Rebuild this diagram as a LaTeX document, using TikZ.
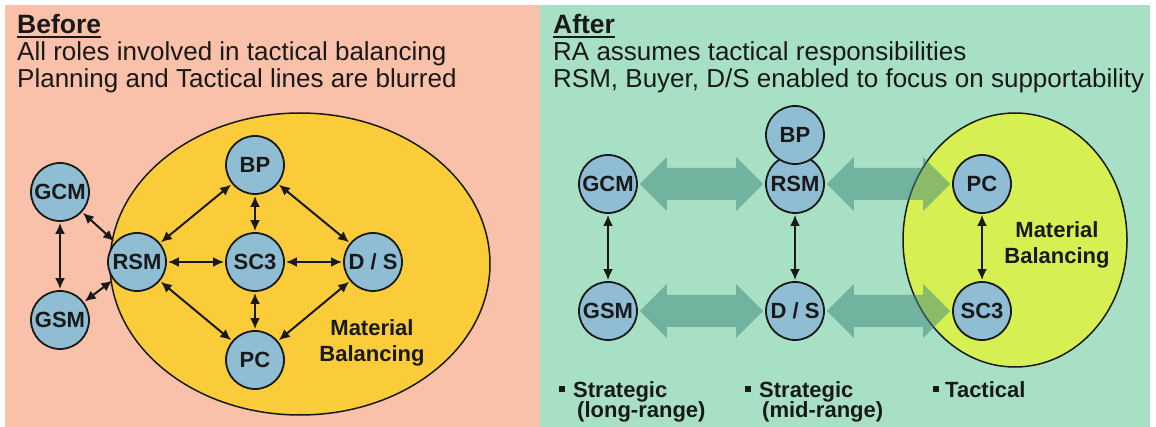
\documentclass[tikz,border=0pt]{standalone}
\usepackage{fontspec}
\setmainfont{Liberation Sans}
\usetikzlibrary{arrows.meta,shapes.geometric,calc}
\definecolor{pinkbg}{RGB}{249,193,170}
\definecolor{greenbg}{RGB}{168,224,198}
\definecolor{goldell}{RGB}{250,204,58}
\definecolor{limeell}{RGB}{214,240,84}
\definecolor{nodeblue}{RGB}{143,190,212}
\definecolor{inkc}{RGB}{25,25,25}
\definecolor{fatc}{RGB}{62,135,124}
\pgfdeclarelayer{back}
\pgfdeclarelayer{mid}
\pgfsetlayers{back,mid,main}
\newcommand\fatarrow[2]{\fill[fat] let \p1=(#1.east), \p2=(#2.west) in
  (\x1+2pt,\y1) -- (\x1+29pt,\y1+27pt) -- (\x1+29pt,\y1+16pt) -- (\x2-29pt,\y1+16pt) --
  (\x2-29pt,\y1+27pt) -- (\x2-2pt,\y1) -- (\x2-29pt,\y1-27pt) -- (\x2-29pt,\y1-16pt) --
  (\x1+29pt,\y1-16pt) -- (\x1+29pt,\y1-27pt) -- cycle;}
\begin{document}
\begin{tikzpicture}[x=1pt,y=-1pt,
  role/.style={circle,draw=inkc,line width=1.8pt,fill=nodeblue,minimum size=58pt,inner sep=0pt,
    font=\fontsize{22}{22}\selectfont\bfseries,text=inkc},
  link/.style={{Latex[length=11pt,width=10pt]}-{Latex[length=11pt,width=10pt]},line width=2pt,
    draw=inkc,shorten >=1pt,shorten <=1pt},
  fat/.style={fill=fatc,fill opacity=0.5},
  headtxt/.style={anchor=base west,inner sep=0pt,font=\fontsize{26}{26}\selectfont,text=inkc},
  titletxt/.style={headtxt,font=\fontsize{26.5}{26.5}\selectfont\bfseries},
  mbtxt/.style={align=center,inner sep=0pt,font=\fontsize{22}{26}\selectfont\bfseries,text=inkc},
  labtxt/.style={anchor=base west,inner sep=0pt,font=\fontsize{22}{22}\selectfont\bfseries,text=inkc},
  mbell/.style={ellipse,draw=inkc,line width=1.5pt,inner sep=0pt}
]
\useasboundingbox (0,0) rectangle (1156,427);
\begin{pgfonlayer}{back}
  \fill[white] (0,0) rectangle (1156,427);
  \fill[pinkbg] (5,5) rectangle (540,427);
  \fill[greenbg] (540,5) rectangle (1150,427);
  \node[mbell,fill=goldell,minimum width=380pt,minimum height=302pt] (ellL) at (300,264) {};
  \node[mbell,fill=limeell,minimum width=224pt,minimum height=254pt] (ellR) at (1015,240) {};
\end{pgfonlayer}

% headings
\node[titletxt] (before) at (17,34) {Before};
\draw[inkc,line width=2pt] ($(before.base west)+(0,3)$) -- ($(before.base east)+(0,3)$);
\node[headtxt] (bl1) at (17,61) {All roles involved in tactical balancing};
\node[headtxt] (bl2) at (17,88) {Planning and Tactical lines are blurred};
\node[titletxt] (after) at (553,34) {After};
\draw[inkc,line width=2pt] ($(after.base west)+(0,3)$) -- ($(after.base east)+(0,3)$);
\node[headtxt] (al1) at (553,61) {RA assumes tactical responsibilities};
\node[headtxt] (al2) at (553,88) {RSM, Buyer, D/S enabled to focus on supportability};

% left panel
\node[role] (gcmL) at (60,192) {GCM};
\node[role] (gsmL) at (60,320) {GSM};
\node[role] (rsmL) at (137,262) {RSM};
\node[role] (bpL) at (255,165) {BP};
\node[role] (scL) at (255,262) {SC3};
\node[role] (pcL) at (255,360) {PC};
\node[role] (dsL) at (373,262) {D / S};
\node[mbtxt] (mbL) at (372,343) {Material\\Balancing};
\draw[link] (gcmL) -- (gsmL);
\draw[link] (gcmL) -- (rsmL);
\draw[link] (gsmL) -- (rsmL);
\draw[link] (rsmL) -- (bpL);
\draw[link] (rsmL) -- (scL);
\draw[link] (rsmL) -- (pcL);
\draw[link] (bpL) -- (scL);
\draw[link] (bpL) -- (dsL);
\draw[link] (scL) -- (dsL);
\draw[link] (scL) -- (pcL);
\draw[link] (dsL) -- (pcL);

% right panel
\node[role] (gcmR) at (608,184) {GCM};
\node[role] (gsmR) at (608,311) {GSM};
\node[role] (rsmR) at (795,184) {RSM};
\node[role] (bpR) at (795,135) {BP};
\node[role] (dsR) at (795,311) {D / S};
\node[role] (pcR) at (982,184) {PC};
\node[role] (scR) at (982,311) {SC3};
\node[mbtxt] (mbR) at (1057,245) {Material\\Balancing};
\draw[link] (gcmR) -- (gsmR);
\draw[link] (rsmR) -- (dsR);
\draw[link] (pcR) -- (scR);
\begin{pgfonlayer}{mid}
  \fatarrow{gcmR}{rsmR}
  \fatarrow{rsmR}{pcR}
  \fatarrow{gsmR}{dsR}
  \fatarrow{dsR}{scR}
\end{pgfonlayer}

% bottom labels
\node[labtxt] (lab1) at (559,397) {\rule[5pt]{6pt}{6pt}\hspace{8pt}Strategic};
\node[labtxt] (lab1b) at (577,417) {(long-range)};
\node[labtxt] (lab2) at (745,397) {\rule[5pt]{6pt}{6pt}\hspace{8pt}Strategic};
\node[labtxt] (lab2b) at (762,417) {(mid-range)};
\node[labtxt] (lab3) at (933,397) {\rule[5pt]{6pt}{6pt}\hspace{6pt}Tactical};
\end{tikzpicture}
\end{document}
